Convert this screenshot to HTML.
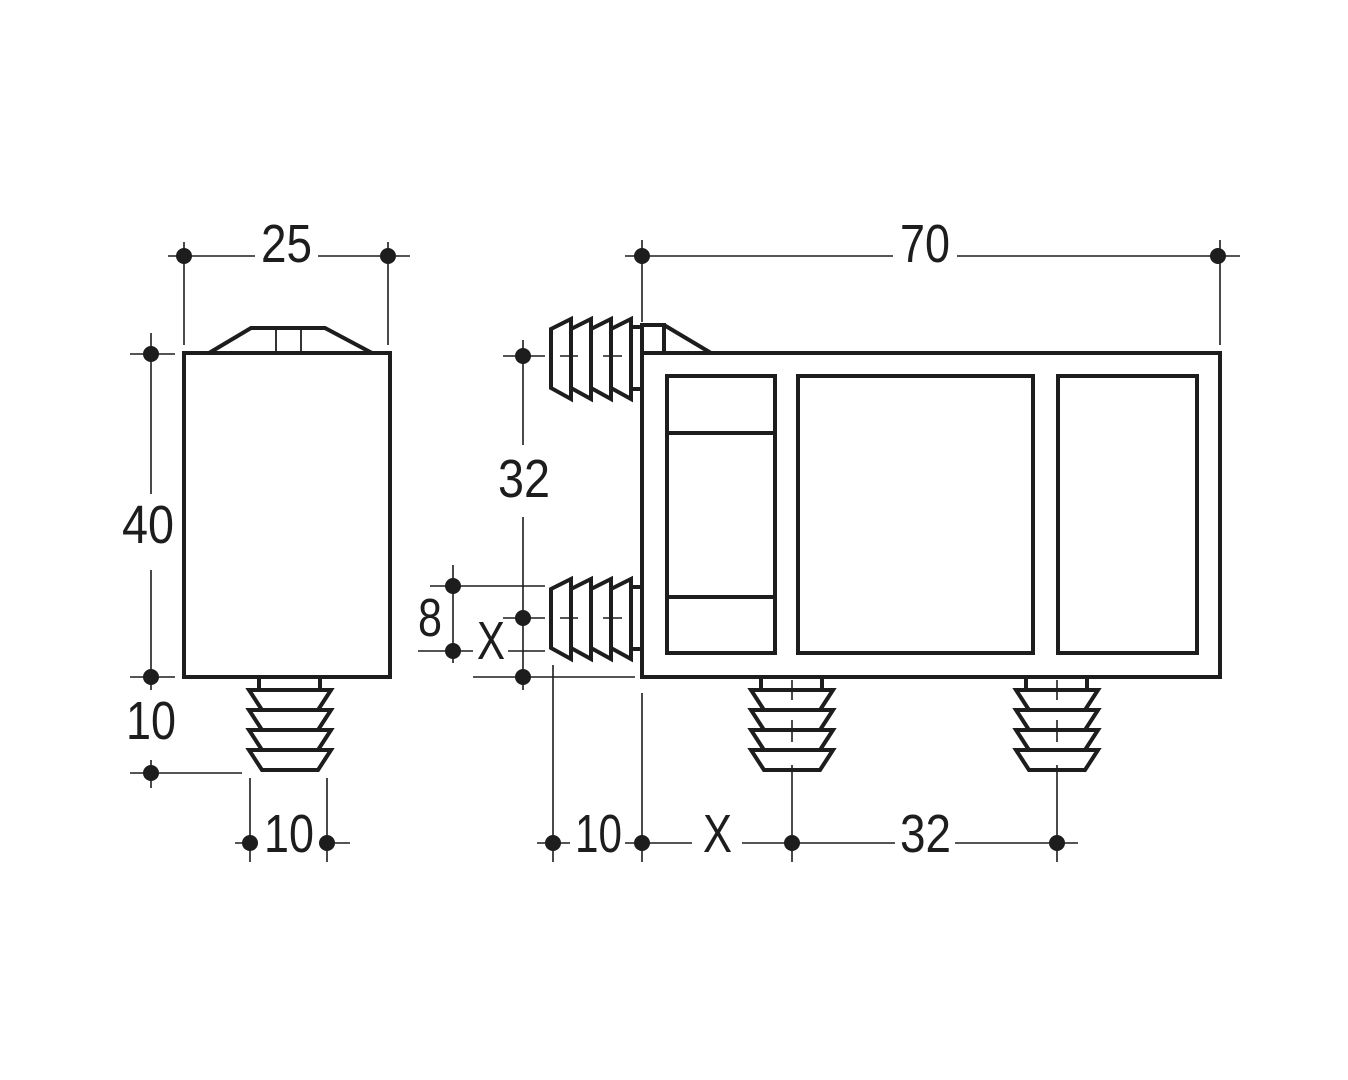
<!DOCTYPE html>
<html><head><meta charset="utf-8"><style>html,body{margin:0;padding:0;background:#fff}svg{display:block}</style></head>
<body>
<svg width="1348" height="1080" viewBox="0 0 1348 1080" xmlns="http://www.w3.org/2000/svg">
<defs>
<g id="vplug" fill="none" stroke="#1d1d1d" stroke-width="4" stroke-linejoin="miter">
  <path d="M-31,677 V690 M30,677 V690"/>
  <path d="M-41,690 H41 L28,710 H-28 Z"/>
  <path d="M-41,710 H41 L28,730 H-28 Z"/>
  <path d="M-41,730 H41 L28,750 H-28 Z"/>
  <path d="M-41,750 H41 L28,770 H-28 Z"/>
</g>
<g id="hplug" fill="none" stroke="#1d1d1d" stroke-width="4">
  <path d="M551,-29 L571,-39 L571,41 L551,30 Z"/>
  <path d="M571,-29 L591,-39 L591,41 L571,30"/>
  <path d="M591,-29 L611,-39 L611,41 L591,30"/>
  <path d="M611,-29 L631,-39 L631,41 L611,30"/>
  <rect x="631" y="-31" width="11" height="62"/>
</g>
</defs>

<g stroke="#1d1d1d" stroke-width="1.6" fill="none">
  <path d="M168,256 H255 M318,256 H410"/>
  <path d="M184,242 V345 M388,242 V345"/>
  <path d="M151,333 V494 M151,570 V690"/>
  <path d="M130,354 H175 M130,677 H175"/>
  <path d="M130,773 H242 M151,760 V788"/>
  <path d="M250,778 V862 M327,778 V862"/>
  <path d="M235,843 H245 M332,843 H350"/>
  <path d="M625,256 H893 M957,256 H1240"/>
  <path d="M642,240 V322 M1220,240 V345"/>
  <path d="M523,340 V445 M523,517 V690"/>
  <path d="M503,356 H545 M503,618 H545"/>
  <path d="M453,565 V663"/>
  <path d="M430,586 H545 M418,651 H473 M508,651 H545"/>
  <path d="M473,677 H635"/>
  <path d="M553,665 V862 M642,693 V862"/>
  <path d="M537,843 H570 M625,843 H692 M742,843 H895 M955,843 H1078"/>
  <path d="M792,765 V862 M1057,765 V862"/>
  <path d="M560,356 H578 M603,356 H622 M560,618 H578 M603,618 H622" />
  <path d="M792,680 V700 M792,720 V742 M1057,680 V700 M1057,720 V742"/>
</g>

<g fill="#1d1d1d">
  <circle cx="184" cy="256" r="8"/><circle cx="388" cy="256" r="8"/>
  <circle cx="151" cy="354" r="8"/><circle cx="151" cy="677" r="8"/>
  <circle cx="151" cy="773" r="8"/>
  <circle cx="250" cy="843" r="8"/><circle cx="327" cy="843" r="8"/>
  <circle cx="642" cy="256" r="8"/><circle cx="1218" cy="256" r="8"/>
  <circle cx="523" cy="356" r="8"/><circle cx="523" cy="618" r="8"/><circle cx="523" cy="677" r="8"/>
  <circle cx="453" cy="586" r="8"/><circle cx="453" cy="651" r="8"/>
  <circle cx="553" cy="843" r="8"/><circle cx="642" cy="843" r="8"/>
  <circle cx="792" cy="843" r="8"/><circle cx="1057" cy="843" r="8"/>
</g>

<g fill="none" stroke="#1d1d1d" stroke-width="4">
  <rect x="184" y="353" width="206" height="324"/>
  <path d="M209,353 L251,328 H325 L372,353"/>
</g>
<path d="M276,328 V353 M301,328 V353" stroke="#1d1d1d" stroke-width="1.8"/>
<use href="#vplug" transform="translate(290,0)"/>

<g fill="none" stroke="#1d1d1d" stroke-width="4">
  <rect x="642" y="353" width="578" height="324"/>
  <rect x="667" y="376" width="108" height="277"/>
  <path d="M667,433 H775 M667,597 H775"/>
  <rect x="798" y="376" width="235" height="277"/>
  <rect x="1058" y="376" width="139" height="277"/>
  <rect x="642" y="325" width="22" height="28"/>
  <path d="M664,325 L711,353"/>
</g>
<use href="#hplug" transform="translate(0,358)"/>
<use href="#hplug" transform="translate(0,618)"/>
<use href="#vplug" transform="translate(792,0)"/>
<use href="#vplug" transform="translate(1057,0)"/>

<g font-family="Liberation Sans, sans-serif" font-size="54" fill="#1d1d1d">
  <text x="261" y="262" textLength="51" lengthAdjust="spacingAndGlyphs">25</text>
  <text x="122" y="543" textLength="52" lengthAdjust="spacingAndGlyphs">40</text>
  <text x="126" y="739" textLength="50" lengthAdjust="spacingAndGlyphs">10</text>
  <text x="264" y="852" textLength="50" lengthAdjust="spacingAndGlyphs">10</text>
  <text x="900" y="262" textLength="50" lengthAdjust="spacingAndGlyphs">70</text>
  <text x="498" y="497" textLength="52" lengthAdjust="spacingAndGlyphs">32</text>
  <text x="418" y="636" textLength="24" lengthAdjust="spacingAndGlyphs">8</text>
  <text x="477" y="659" textLength="28" lengthAdjust="spacingAndGlyphs">X</text>
  <text x="575" y="852" textLength="47" lengthAdjust="spacingAndGlyphs">10</text>
  <text x="703" y="852" textLength="29" lengthAdjust="spacingAndGlyphs">X</text>
  <text x="900" y="852" textLength="51" lengthAdjust="spacingAndGlyphs">32</text>
</g>
</svg>
</body></html>
